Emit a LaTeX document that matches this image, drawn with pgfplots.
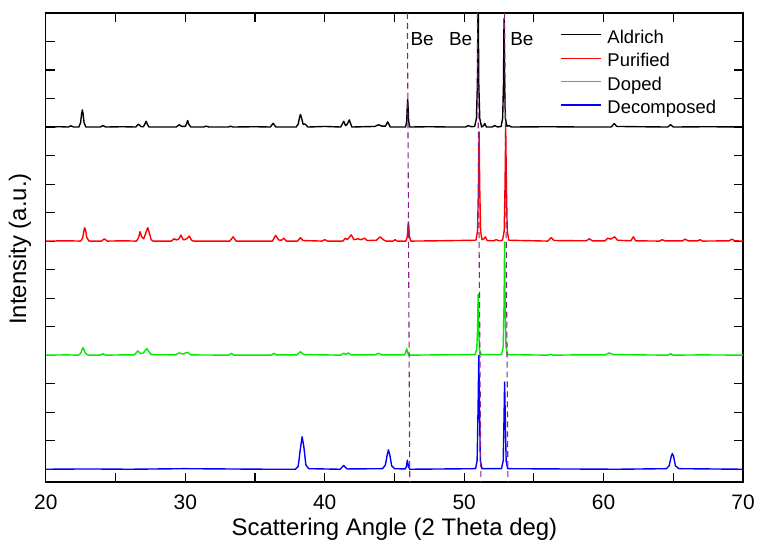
\documentclass[border=0pt]{standalone}
\usepackage{fontspec}
\setmainfont{Liberation Sans}
\usepackage{pgfplots}
\pgfplotsset{compat=1.18}
\definecolor{begrn}{RGB}{0,235,0}
\definecolor{bepur}{RGB}{140,30,140}

\begin{document}
\begin{tikzpicture}
\begin{axis}[
  scale only axis,
  width=700pt, height=471pt,
  xmin=20, xmax=70, ymin=-0.45, ymax=16,
  xtick={20,30,...,70}, minor xtick={25,35,...,65},
  ytick={0,1,...,16}, yticklabels={},
  tick pos=both, tick align=inside,
  major tick length=9pt, minor tick length=9pt,
  tick style={black, line width=1.1pt},
  axis line style={line width=1.2pt},
  /pgf/number format/assume math mode=true,
  xticklabel style={font=\fontsize{21}{21}\selectfont, anchor=base, yshift=-27.7pt},
  xlabel={Scattering Angle (2 Theta deg)},
  ylabel={Intensity (a.u.)},
  label style={font=\fontsize{24}{24}\selectfont},
  xlabel style={at={(axis description cs:0.5,-0.1146)}, anchor=base},
  ylabel style={at={(axis description cs:-0.0371,0.497)}, anchor=center},
  legend style={draw=none, fill=none, at={(0.737,0.9686)}, anchor=north west,
    inner sep=0pt, column sep=3.5pt, row sep=2pt,
    font=\fontsize{18.5}{18.5}\selectfont,
    nodes={inner sep=2pt, text height=13.5pt, text depth=4pt}},
  legend cell align=left,
  legend image code/.code={\draw[#1, line width=1.3pt] (0pt,0.38em) -- (41pt,0.38em);},
  every axis plot/.append style={line width=1.4pt, line join=round},
]
% Aldrich
\addplot[black] coordinates {
 (20,12) (21.0,12.01) (21.6,12) (21.8,12.04) (22.0,12)
 (22.37,12) (22.495,12.15) (22.57,12.48) (22.62,12.6) (22.67,12.48) (22.745,12.15) (22.87,12)
 (23.9,12) (24.1,12.05) (24.3,12) (25.5,12.01)
 (26.45,12) (26.64,12.1) (26.85,12.01) (27.0,12.01) (27.1,12.1) (27.19,12.2) (27.28,12.1) (27.4,12)
 (29.35,12) (29.57,12.08) (29.75,12.02) (30.0,12.02) (30.1,12.12) (30.17,12.23) (30.25,12.1) (30.4,12)
 (31.3,12) (31.5,12.03) (31.7,12) (33.1,12) (33.26,12.03) (33.4,12) (35.0,12.01)
 (36.1,12) (36.3,12.13) (36.5,12)
 (37.95,12) (38.1,12.1) (38.2,12.35) (38.26,12.44) (38.32,12.35) (38.45,12.1) (38.6,12.1) (38.8,12)
 (40.0,12.02) (41.15,12) (41.36,12.2) (41.5,12.05) (41.62,12.1) (41.76,12.25) (41.95,12)
 (43.6,12.02) (43.86,12.08) (44.1,12.03) (44.35,12.03) (44.52,12.18) (44.7,12)
 (45.8,12) (45.88,12.2) (45.92,12.7) (45.95,12.97) (45.98,12.7) (46.02,12.2) (46.1,12)
 (47.5,12.01) (49.0,12) (50.1,12) (50.29,12.05) (50.5,12.01)
 (50.75,12.02) (50.88,12.3) (50.95,13.5) (51.0,17) (51.05,13.5) (51.12,12.3) (51.25,12)
 (51.4,12.05) (51.48,12.12) (51.6,12.0) (52.0,12) (52.2,12.05) (52.4,12)
 (52.65,12.02) (52.76,12.3) (52.82,13.5) (52.86,15.8) (52.9,13.5) (52.96,12.3) (53.07,12.02)
 (53.2,12.05) (53.4,12) (56.0,12.01) (58.5,12)
 (60.55,12) (60.76,12.12) (60.95,12.02) (62.5,12.01) (64.6,12) (64.8,12.08) (65.0,12) (67.5,12.01) (70,12)
};
\addlegendentry{Aldrich}
% Purified
\addplot[red] coordinates {
 (20,8) (21.5,8.01)
 (22.5,8) (22.65,8.12) (22.74,8.38) (22.79,8.47) (22.85,8.38) (22.94,8.12) (23.1,8)
 (24.0,8) (24.2,8.08) (24.4,8) (25.5,8.01)
 (26.5,8) (26.65,8.12) (26.76,8.33) (26.87,8.15) (27.02,8.08) (27.18,8.3) (27.31,8.47) (27.42,8.3) (27.55,8.05) (27.7,8)
 (29.0,8) (29.2,8.08) (29.38,8.04) (29.55,8.08) (29.69,8.21) (29.85,8.05) (29.98,8.05) (30.15,8.1) (30.29,8.18) (30.45,8.03) (30.6,8)
 (33.2,8) (33.43,8.15) (33.65,8)
 (36.25,8) (36.48,8.2) (36.7,8.04) (36.9,8.03) (37.07,8.1) (37.25,8)
 (38.05,8) (38.26,8.12) (38.45,8.02) (39.8,8) (40.0,8.05) (40.2,8)
 (41.3,8) (41.48,8.1) (41.62,8.05) (41.9,8.22) (42.1,8.05) (42.4,8.08) (42.6,8.05) (42.86,8.1) (43.05,8.02)
 (43.7,8.03) (43.98,8.15) (44.2,8.05) (44.4,8) (44.9,8) (45.05,8.05) (45.2,8)
 (45.82,8) (45.92,8.15) (45.97,8.5) (46.0,8.67) (46.03,8.5) (46.08,8.15) (46.18,8)
 (48.0,8.01) (50.8,8.03)
 (50.85,8.05) (50.96,8.35) (51.02,9.8) (51.07,11.83) (51.12,9.8) (51.18,8.35) (51.28,8.05)
 (51.42,8.08) (51.52,8.15) (51.65,8.02) (52.1,8.01) (52.3,8.05) (52.5,8.01)
 (52.75,8.03) (52.87,8.35) (52.93,9.9) (52.98,11.95) (53.03,9.9) (53.09,8.35) (53.2,8.03)
 (56.0,8) (56.24,8.12) (56.45,8.02) (58.75,8.01) (58.98,8.08) (59.2,8.01)
 (60.1,8.01) (60.29,8.1) (60.5,8.07) (60.8,8.15) (61.0,8.03) (61.95,8.01) (62.14,8.15) (62.3,8.01)
 (64.0,8) (64.2,8.05) (64.4,8.01) (65.65,8.01) (65.86,8.07) (66.05,8.01) (66.75,8.01) (66.93,8.05) (67.1,8.0)
 (69.0,8.01) (69.2,8.07) (69.4,8.01) (70,8)
};
\addlegendentry{Purified}
% Doped
\addplot[begrn] coordinates {
 (20,4) (21.5,4.01)
 (22.35,4) (22.52,4.08) (22.62,4.22) (22.67,4.26) (22.73,4.2) (22.85,4.06) (23.05,4)
 (23.9,4) (24.1,4.05) (24.3,4) (25.5,4.01)
 (26.35,4.01) (26.6,4.15) (26.8,4.05) (27.0,4.08) (27.15,4.18) (27.24,4.23) (27.35,4.15) (27.55,4.02)
 (29.3,4.01) (29.57,4.08) (29.8,4.04) (30.17,4.1) (30.4,4.01)
 (33.1,4) (33.3,4.06) (33.5,4) (36.15,4) (36.36,4.06) (36.55,4.01)
 (38.0,4.01) (38.26,4.12) (38.5,4.02) (40.0,4.01)
 (41.15,4) (41.36,4.07) (41.5,4.03) (41.7,4.08) (41.9,4.01)
 (43.6,4.01) (43.86,4.07) (44.1,4.01)
 (45.7,4.01) (45.8,4.08) (45.88,4.23) (45.96,4.08) (46.05,4.0) (48.0,4.01)
 (50.78,4.02) (50.9,4.2) (50.96,4.9) (51.0,6.14) (51.04,4.9) (51.1,4.2) (51.22,4.02)
 (52.68,4.02) (52.8,4.3) (52.86,5.8) (52.9,7.97) (52.94,5.8) (53.0,4.3) (53.12,4.02)
 (56.0,4) (56.2,4.03) (56.4,4) (58.0,4.01)
 (60.1,4.01) (60.4,4.08) (60.7,4.02) (64.6,4) (64.8,4.05) (65.0,4) (67.0,4.01) (70,4)
};
\addlegendentry{Doped}
% Decomposed
\addplot[blue] coordinates {
 (20,0) (23.0,0.01) (26.0,0) (29.9,0.02) (33.0,0.01) (36.0,0)
 (37.9,0) (38.1,0.1) (38.25,0.7) (38.38,1.14) (38.5,0.8) (38.65,0.15) (38.85,0.02)
 (41.1,0) (41.36,0.13) (41.6,0.01)
 (44.15,0.02) (44.35,0.15) (44.48,0.5) (44.57,0.68) (44.67,0.5) (44.8,0.12) (45.0,0.02)
 (45.78,0.01) (45.86,0.1) (45.93,0.32) (46.0,0.1) (46.1,0.0) (48.5,0.01)
 (50.82,0.02) (50.93,0.3) (51.0,2.2) (51.05,3.99) (51.1,2.2) (51.16,0.3) (51.28,0.02)
 (52.68,0.02) (52.8,0.3) (52.86,1.8) (52.9,3.06) (52.95,1.8) (53.01,0.3) (53.12,0.02)
 (57.0,0.01) (61.0,0)
 (64.5,0.02) (64.7,0.12) (64.85,0.45) (64.93,0.55) (65.02,0.45) (65.15,0.12) (65.4,0.02) (70,0)
};
\addlegendentry{Decomposed}
% Be reference lines
\addplot[bepur, line width=1.1pt, dash pattern=on 6pt off 4pt, forget plot] coordinates {(45.93,16) (46.1,-0.45)};
\addplot[bepur, line width=1.1pt, dash pattern=on 6pt off 4pt, forget plot] coordinates {(50.95,16) (51.2,-0.45)};
\addplot[bepur, line width=1.1pt, dash pattern=on 6pt off 4pt, forget plot] coordinates {(52.9,16) (53.14,-0.45)};
\node[font=\fontsize{19}{19}\selectfont] at (axis cs:46.99,15.1) {Be};
\node[font=\fontsize{19}{19}\selectfont] at (axis cs:49.75,15.1) {Be};
\node[font=\fontsize{19}{19}\selectfont] at (axis cs:54.14,15.1) {Be};
\end{axis}
\path ([shift={(-46pt,-59pt)}]current axis.south west) rectangle ([shift={(12pt,13pt)}]current axis.north east);
\end{tikzpicture}
\end{document}
